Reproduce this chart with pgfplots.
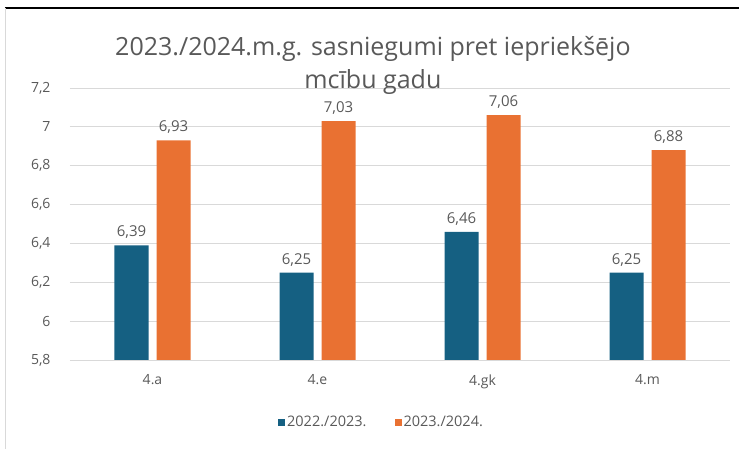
\documentclass[border=0pt]{standalone}
\usepackage{pgfplots}
\pgfplotsset{compat=1.18}
\usepackage{fontspec}
\setmainfont{Open Sans}
\definecolor{cblue}{HTML}{156082}
\definecolor{corange}{HTML}{E97132}
\definecolor{tgray}{HTML}{595959}
\definecolor{ggray}{HTML}{D9D9D9}
\begin{document}
\begin{tikzpicture}[x=1pt,y=1pt]
\path[use as bounding box] (-70,-89) rectangle (669,360);
\draw[line width=1.2pt,black] (-65,352) -- (669,352);
\draw[line width=0.8pt,ggray] (-65,352) -- (-65,-89);
\begin{axis}[
  at={(0,0)}, anchor=south west,
  scale only axis, width=660pt, height=272pt,
  ybar=8pt, bar width=34pt,
  xmin=-0.5, xmax=3.5, ymin=5.8, ymax=7.2,
  ytick={5.8,6,6.2,6.4,6.6,6.8,7,7.2},
  xtick={0,1,2,3}, xticklabels={4.a,4.e,4.gk,4.m},
  axis line style={draw=none},
  axis x line*=bottom,
  major tick length=0pt,
  ymajorgrids, grid style={ggray, line width=0.8pt},
  /pgf/number format/.cd, fixed, precision=2, use comma, assume math mode=true,
  /pgfplots/.cd,
  tick label style={font=\fontsize{14}{16}\selectfont, text=tgray},
  yticklabel style={xshift=-16pt},
  xticklabel style={yshift=-11pt},
  nodes near coords,
  every node near coord/.append style={font=\fontsize{15}{17}\selectfont, text=tgray, yshift=3pt},
  legend columns=2,
  legend style={at={(0.472,-0.228)}, anchor=center, draw=none, fill=none,
    font=\fontsize{14.5}{17}\selectfont, text=tgray,
    /tikz/every even column/.append style={column sep=26pt}},
  legend image code/.code={\fill[#1] (0pt,-3.5pt) rectangle (7pt,3.5pt);},
  title={2023./2024.m.g. sasniegumi pret iepriekšējo\\mcību gadu},
  title style={at={(0.459,1)}, anchor=south, align=center, yshift=-16pt,
    font=\fontsize{25}{33}\selectfont, text=tgray},
  clip=false,
]
\addplot[fill=cblue, draw=none] coordinates {(0,6.39) (1,6.25) (2,6.46) (3,6.25)};
\addplot[fill=corange, draw=none] coordinates {(0,6.93) (1,7.03) (2,7.06) (3,6.88)};
\legend{2022./2023.,2023./2024.}
\end{axis}
\end{tikzpicture}
\end{document}
